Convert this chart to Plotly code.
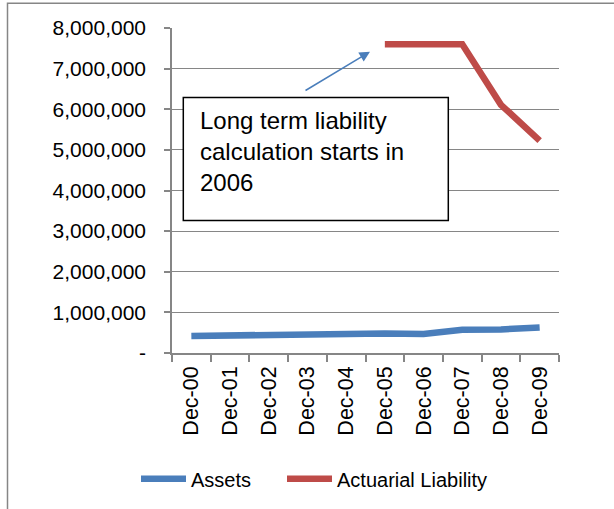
import plotly.graph_objects as go

categories = ["Dec-00", "Dec-01", "Dec-02", "Dec-03", "Dec-04",
              "Dec-05", "Dec-06", "Dec-07", "Dec-08", "Dec-09"]
assets = [420000, 440000, 430000, 470000, 500000, 480000, 470000, 570000, 580000, 630000]
liability = [None, None, None, None, None, 7600000, 7600000, 7600000, 6110000, 5230000]
y_tickvals = [0, 1000000, 2000000, 3000000, 4000000, 5000000, 6000000, 7000000, 8000000]
y_ticktext = ["-", "1,000,000", "2,000,000", "3,000,000", "4,000,000",
              "5,000,000", "6,000,000", "7,000,000", "8,000,000"]
note_text = "Long term liability<br>calculation starts in<br>2006"

W, H = 614, 509
L, R, T, B = 172, 559, 28.3, 353.3

def px(x):
    return (x - L) / (R - L)

def py(y):
    return (B - y) / (B - T)

FONT = "Liberation Sans, Arial, sans-serif"

fig = go.Figure()
fig.add_trace(go.Scatter(x=categories, y=assets, mode="lines", name="Assets",
                         legend="legend",
                         line=dict(color="#4a7ebb", width=6.5)))
fig.add_trace(go.Scatter(x=categories, y=liability, mode="lines", name="Actuarial Liability",
                         legend="legend2",
                         line=dict(color="#be4b48", width=6.5)))

leg_common = dict(orientation="h", yanchor="middle", xanchor="left",
                  font=dict(size=20, family=FONT, color="black"), itemwidth=45,
                  bgcolor="rgba(0,0,0,0)")
fig.update_layout(
    width=W, height=H,
    margin=dict(l=L, r=W - R, t=T, b=H - B, autoexpand=False),
    paper_bgcolor="white", plot_bgcolor="white",
    font=dict(family=FONT, size=20, color="black"),
    showlegend=True,
    legend=dict(x=px(136), y=py(479), **leg_common),
    legend2=dict(x=px(282), y=py(479), **leg_common),
)
fig.update_xaxes(type="category", range=[-0.5, 9.5], showgrid=False,
                 showline=True, linecolor="#868686", linewidth=1.5,
                 ticks="outside", tickson="boundaries", ticklen=7, tickcolor="#868686",
                 tickwidth=1.5, tickangle=-90, ticklabelstandoff=3,
                 tickfont=dict(size=21.5, family=FONT))
fig.update_yaxes(range=[0, 8000000], tickvals=y_tickvals, ticktext=y_ticktext,
                 showgrid=True, gridcolor="#868686", gridwidth=1.2,
                 showline=True, linecolor="#868686", linewidth=1.5,
                 ticks="outside", ticklen=6, tickcolor="#868686", tickwidth=1.5,
                 ticklabelstandoff=14,
                 zeroline=False, tickfont=dict(size=21, family=FONT))

# outer chart border (right and bottom edges fall outside the picture)
fig.add_shape(type="rect", xref="paper", yref="paper",
              x0=px(7.5), x1=px(640), y0=py(540), y1=py(3.5),
              line=dict(color="#868686", width=1.5), fillcolor="rgba(0,0,0,0)",
              layer="below")

# callout box
fig.add_shape(type="rect", xref="paper", yref="paper",
              x0=px(183.3), x1=px(448.3), y0=py(220.7), y1=py(97.7),
              line=dict(color="black", width=1.5), fillcolor="white", layer="above")
fig.add_annotation(xref="paper", yref="paper", x=px(199), y=py(106),
                   xanchor="left", yanchor="top", align="left",
                   text=note_text, showarrow=False, borderpad=0,
                   font=dict(size=24, family=FONT, color="black"))
# arrow
fig.add_annotation(xref="paper", yref="paper", axref="pixel", ayref="pixel",
                   x=px(370), y=py(52), ax=304 - 370, ay=91.7 - 52,
                   text="", showarrow=True, arrowhead=2, arrowsize=1.4,
                   arrowwidth=1.5, arrowcolor="#4a7ebb")

fig.write_html("out.html", config={"displayModeBar": False},
               post_script="document.body.style.margin='0px';")
